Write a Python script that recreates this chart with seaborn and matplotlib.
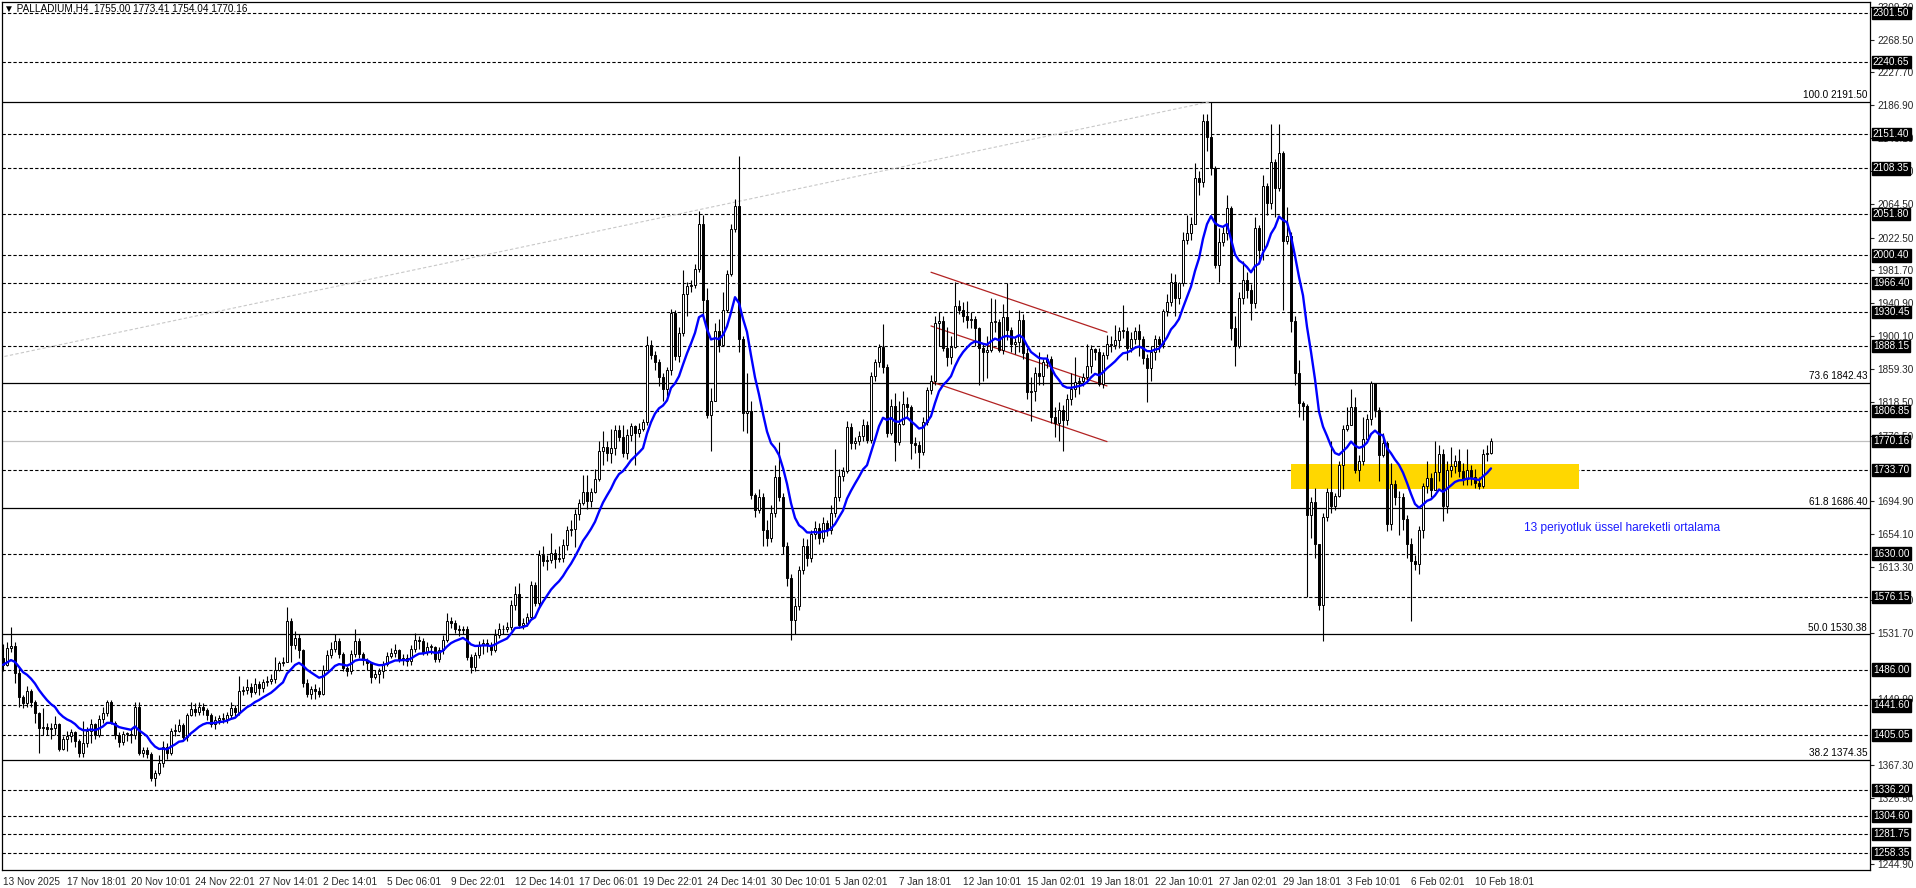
import numpy as np
import pandas as pd
import matplotlib
matplotlib.use("Agg")
import matplotlib.pyplot as plt
import matplotlib.transforms as mtransforms
import seaborn as sns

# H4 candles (bar 0 = 13 Nov 2025)
closes = [
    1492, 1513, 1515, 1482, 1452, 1444, 1460, 1446, 1432, 1413,
    1415, 1412, 1413, 1418, 1388, 1400, 1404, 1408, 1398, 1383,
    1395, 1410, 1418, 1405, 1425, 1432, 1446, 1420, 1405, 1396,
    1406, 1406, 1405, 1440, 1382, 1386, 1381, 1351, 1358, 1370,
    1390, 1382, 1410, 1410, 1417, 1402, 1430, 1437, 1434, 1440,
    1436, 1430, 1418, 1423, 1426, 1425, 1430, 1438, 1434, 1460,
    1461, 1464, 1458, 1468, 1463, 1471, 1472, 1475, 1486, 1494,
    1495, 1547, 1517, 1525, 1510, 1470, 1456, 1462, 1460, 1456,
    1486, 1504, 1512, 1521, 1506, 1488, 1484, 1506, 1521, 1506,
    1498, 1494, 1477, 1481, 1484, 1493, 1503, 1507, 1510, 1498,
    1500, 1497, 1512, 1523, 1522, 1508, 1514, 1514, 1499, 1510,
    1523, 1546, 1544, 1537, 1535, 1537, 1502, 1489, 1504, 1517,
    1519, 1516, 1510, 1529, 1537, 1536, 1539, 1566, 1580, 1541,
    1544, 1551, 1591, 1569, 1628, 1621, 1622, 1631, 1624, 1625,
    1641, 1659, 1661, 1679, 1693, 1707, 1695, 1707, 1723, 1757,
    1762, 1755, 1761, 1784, 1775, 1755, 1777, 1788, 1780, 1785,
    1793, 1889, 1877, 1868, 1850, 1835, 1858, 1929, 1875, 1904,
    1952, 1962, 1964, 1984, 2040, 1945, 1802, 1819, 1907, 1889,
    1933, 1977, 2033, 2062, 1897, 1805, 1807, 1703, 1684, 1700,
    1660, 1650, 1680, 1725, 1700, 1640, 1600, 1548, 1565, 1610,
    1640, 1625, 1655, 1662, 1650, 1668, 1660, 1680, 1700, 1727,
    1733, 1787, 1767, 1770, 1776, 1790, 1771, 1851, 1868, 1887,
    1862, 1780, 1813, 1769, 1791, 1816, 1812, 1767, 1765, 1756,
    1794, 1833, 1845, 1916, 1919, 1885, 1874, 1887, 1937, 1933,
    1925, 1920, 1921, 1910, 1885, 1880, 1883, 1918, 1918, 1883,
    1924, 1908, 1891, 1893, 1920, 1879, 1831, 1832, 1854, 1851,
    1868, 1872, 1800, 1792, 1808, 1796, 1822, 1835, 1843, 1845,
    1849, 1863, 1884, 1880, 1841, 1877, 1891, 1889, 1895, 1907,
    1907, 1885, 1897, 1907, 1896, 1873, 1860, 1880, 1896, 1891,
    1931, 1943, 1968, 1947, 1966, 2020, 2028, 2040, 2097, 2091,
    2167, 2148, 2109, 1989, 2017, 2028, 2059, 1910, 1888, 1948,
    1970, 1957, 1941, 2034, 2007, 2087, 2065, 2116, 2084, 2128,
    2018, 2025, 1919, 1854, 1817, 1813, 1678, 1694, 1642, 1566,
    1676, 1707, 1689, 1702, 1740, 1785, 1790, 1812, 1734, 1745,
    1773, 1797, 1842, 1809, 1752, 1767, 1667, 1716, 1700, 1701,
    1673, 1642, 1621, 1617, 1659, 1714, 1724, 1709, 1732, 1754,
    1689, 1734, 1739, 1745, 1733, 1723, 1734, 1725, 1718, 1714,
    1754, 1755, 1770.16,
]
highs = [
    1518, 1520, 1539, 1520, 1488, 1455, 1466, 1462, 1448, 1434,
    1438, 1420, 1420, 1428, 1420, 1404, 1410, 1412, 1410, 1400,
    1422, 1415, 1425, 1420, 1430, 1440, 1448, 1448, 1422, 1408,
    1410, 1409, 1412, 1446, 1446, 1390, 1390, 1384, 1362, 1380,
    1398, 1395, 1414, 1418, 1425, 1420, 1432, 1446, 1444, 1446,
    1444, 1438, 1432, 1428, 1430, 1432, 1434, 1446, 1442, 1478,
    1466, 1475, 1470, 1476, 1472, 1475, 1478, 1480, 1502, 1497,
    1502, 1564, 1550, 1534, 1530, 1512, 1474, 1466, 1468, 1464,
    1492, 1510, 1520, 1530, 1525, 1508, 1490, 1510, 1537, 1525,
    1508, 1500, 1496, 1486, 1488, 1497, 1508, 1513, 1518, 1512,
    1505, 1506, 1516, 1531, 1528, 1525, 1520, 1518, 1515, 1514,
    1529, 1556, 1552, 1548, 1542, 1540, 1540, 1505, 1508, 1522,
    1524, 1524, 1520, 1536, 1544, 1542, 1545, 1572, 1590, 1594,
    1550, 1556, 1596, 1595, 1635, 1640, 1628, 1656, 1636, 1640,
    1648, 1665, 1672, 1686, 1698, 1728, 1728, 1712, 1735, 1770,
    1782, 1770, 1785, 1790, 1790, 1790, 1785, 1792, 1790, 1792,
    1797, 1900, 1895, 1882, 1872, 1855, 1862, 1934, 1932, 1912,
    1982, 1967, 1970, 1990, 2056, 2050, 1960, 1836, 1916, 1922,
    1955, 1982, 2040, 2070, 2124, 1900, 1854, 1820, 1705, 1710,
    1705, 1672, 1690, 1740, 1769, 1705, 1645, 1605, 1575, 1615,
    1650, 1648, 1660, 1670, 1668, 1675, 1672, 1690, 1760, 1735,
    1738, 1795, 1792, 1775, 1782, 1797, 1795, 1856, 1872, 1890,
    1915, 1865, 1822, 1830, 1820, 1832, 1824, 1815, 1775, 1770,
    1800, 1837, 1852, 1925, 1930, 1925, 1911, 1900, 1968, 1945,
    1943, 1944, 1930, 1925, 1912, 1890, 1900, 1948, 1946, 1922,
    1940, 1966, 1912, 1898, 1932, 1928, 1885, 1850, 1862, 1880,
    1872, 1878, 1875, 1812, 1818, 1815, 1828, 1854, 1874, 1850,
    1854, 1890, 1889, 1885, 1885, 1880, 1902, 1900, 1914, 1912,
    1939, 1912, 1905, 1912, 1915, 1900, 1878, 1888, 1902, 1900,
    1934, 1952, 1978, 1977, 1968, 2030, 2050, 2048, 2115, 2105,
    2176, 2176, 2191.5, 2112, 2035, 2036, 2075, 2062, 1925, 1955,
    1994, 1980, 1965, 2048, 2038, 2100, 2090, 2164, 2120, 2164,
    2130, 2060, 2030, 1925, 1870, 1820, 1816, 1700, 1712, 1640,
    1680, 1712, 1770, 1705, 1745, 1790, 1812, 1835, 1825, 1752,
    1800, 1803, 1845, 1842, 1812, 1780, 1770, 1742, 1722, 1708,
    1705, 1678, 1650, 1628, 1665, 1718, 1745, 1730, 1770, 1765,
    1760, 1745, 1762, 1752, 1760, 1742, 1760, 1740, 1735, 1725,
    1760, 1765, 1773.41,
]
lows = [
    1484, 1490, 1508, 1470, 1440, 1438, 1440, 1440, 1420, 1382,
    1405, 1405, 1400, 1405, 1385, 1386, 1385, 1396, 1390, 1378,
    1378, 1390, 1395, 1400, 1402, 1420, 1428, 1418, 1400, 1390,
    1392, 1398, 1395, 1400, 1380, 1378, 1376, 1348, 1341, 1355,
    1365, 1375, 1380, 1404, 1408, 1398, 1398, 1428, 1428, 1430,
    1430, 1424, 1415, 1412, 1418, 1420, 1420, 1426, 1428, 1430,
    1454, 1456, 1452, 1456, 1455, 1458, 1466, 1468, 1470, 1484,
    1490, 1496, 1495, 1512, 1500, 1465, 1452, 1450, 1449, 1452,
    1455, 1485, 1500, 1508, 1500, 1484, 1478, 1480, 1502, 1500,
    1492, 1485, 1470, 1474, 1470, 1476, 1490, 1500, 1502, 1495,
    1492, 1490, 1492, 1508, 1512, 1504, 1504, 1506, 1495, 1496,
    1505, 1520, 1538, 1532, 1528, 1530, 1498, 1482, 1484, 1500,
    1505, 1508, 1504, 1508, 1525, 1530, 1533, 1535, 1560, 1538,
    1536, 1540, 1548, 1565, 1565, 1615, 1610, 1618, 1612, 1620,
    1620, 1635, 1652, 1638, 1672, 1690, 1685, 1688, 1705, 1720,
    1740, 1745, 1742, 1752, 1770, 1750, 1748, 1770, 1740, 1775,
    1782, 1790, 1872, 1858, 1838, 1820, 1826, 1852, 1870, 1868,
    1900, 1925, 1955, 1960, 1980, 1928, 1798, 1757, 1819, 1880,
    1889, 1930, 1975, 2030, 1880, 1782, 1780, 1698, 1675, 1680,
    1640, 1640, 1645, 1675, 1695, 1630, 1590, 1523, 1530, 1560,
    1605, 1615, 1620, 1648, 1642, 1645, 1652, 1655, 1675, 1695,
    1720, 1730, 1760, 1760, 1765, 1770, 1768, 1768, 1845, 1862,
    1855, 1775, 1778, 1745, 1765, 1790, 1800, 1748, 1755, 1736,
    1752, 1790, 1828, 1840, 1888, 1882, 1863, 1865, 1885, 1928,
    1918, 1910, 1910, 1888, 1839, 1845, 1848, 1880, 1905, 1880,
    1878, 1895, 1880, 1878, 1880, 1872, 1822, 1795, 1820, 1840,
    1840, 1860, 1792, 1775, 1770, 1757, 1790, 1815, 1825, 1828,
    1838, 1845, 1855, 1870, 1838, 1836, 1872, 1880, 1884, 1885,
    1898, 1870, 1880, 1890, 1875, 1865, 1818, 1845, 1870, 1880,
    1885, 1925, 1937, 1925, 1940, 1962, 2015, 2020, 2040, 2075,
    2085, 2130, 2100, 1985, 1968, 2012, 2020, 1895, 1863, 1885,
    1940, 1948, 1920, 1935, 1995, 1995, 2050, 2058, 2048, 2080,
    1932, 2015, 1905, 1840, 1800, 1796, 1576, 1650, 1625, 1560,
    1522, 1670, 1680, 1684, 1700, 1710, 1782, 1790, 1730, 1720,
    1740, 1772, 1790, 1800, 1720, 1750, 1658, 1660, 1690, 1653,
    1660, 1625, 1547, 1610, 1605, 1650, 1705, 1700, 1715, 1720,
    1670, 1680, 1725, 1730, 1725, 1715, 1715, 1715, 1712, 1710,
    1712, 1745, 1754.04,
]
first_open = 1500.0

x_labels = ["13 Nov 2025", "17 Nov 18:01", "20 Nov 10:01", "24 Nov 22:01",
            "27 Nov 14:01", "2 Dec 14:01", "5 Dec 06:01", "9 Dec 22:01",
            "12 Dec 14:01", "17 Dec 06:01", "19 Dec 22:01", "24 Dec 14:01",
            "30 Dec 10:01", "5 Jan 02:01", "7 Jan 18:01", "12 Jan 10:01",
            "15 Jan 02:01", "19 Jan 18:01", "22 Jan 10:01", "27 Jan 02:01",
            "29 Jan 18:01", "3 Feb 10:01", "6 Feb 02:01", "10 Feb 18:01"]
bars_per_label = 16
# price scale labels (the ones fully hidden under level boxes are left out)
y_ticks = [2309.30, 2268.50, 2227.70, 2186.90, 2146.10, 2105.30, 2064.50,
           2022.50, 1981.70, 1940.90, 1900.10, 1859.30, 1818.50, 1776.50,
           1694.90, 1654.10, 1613.30, 1572.50, 1531.70,
           1449.90, 1367.30, 1326.50, 1244.90]

levels = [2301.50, 2240.65, 2151.40, 2108.35, 2051.80, 2000.40, 1966.40,
          1930.45, 1888.15, 1806.85, 1733.70, 1630.00, 1576.15, 1486.00,
          1441.60, 1405.05, 1336.20, 1304.60, 1281.75, 1258.35]
fib_pcts = ["100.0", "73.6", "61.8", "50.0", "38.2"]
fib_levels = [2191.50, 1842.43, 1686.40, 1530.38, 1374.35]
last_price = 1770.16

fib_trend_x = [-1, 302]
fib_trend_y = [1873.5, 2191.5]
channel_x = [232, 276]
channel_top = [1979.5, 1905.0]
channel_mid = [1912.8, 1838.3]
channel_low = [1843.6, 1769.2]
zone_x = [322.1, 393.9]
zone_y = [1710.3, 1741.4]
ema_note = "13 periyotluk üssel hareketli ortalama"
header = "\u25bc PALLADIUM,H4  1755.00 1773.41 1754.04 1770.16"

df = pd.DataFrame({"bar": np.arange(len(closes)), "close": closes,
                   "high": highs, "low": lows})
df["open"] = df["close"].shift(1).fillna(first_open)
df["high"] = df[["high", "open", "close"]].max(axis=1)
df["low"] = df[["low", "open", "close"]].min(axis=1)
df["ema"] = df["close"].ewm(span=13, adjust=False).mean()

sns.set_style("white")
plt.rcParams["font.family"] = ["Liberation Sans", "DejaVu Sans"]

fig = plt.figure(figsize=(19.16, 8.88), dpi=100)
ax = fig.add_axes([2 / 1916, 18 / 888, 1868 / 1916, 868 / 888])
ax.set_xlim(-0.25, 466.75)
ax.set_ylim(1237.2, 2315.1)

# levels and fibo
for lv in levels:
    ax.axhline(lv, color="black", lw=0.8, ls=(0, (3, 1.9)), zorder=1)
for pct, lv in zip(fib_pcts, fib_levels):
    ax.axhline(lv, color="black", lw=0.9, zorder=1)
    ax.text(0.9985, lv + 1.5, f"{pct} {lv:.2f}", transform=ax.get_yaxis_transform(),
            ha="right", va="bottom", fontsize=7.2, color="black")
ax.axhline(last_price, color="#c0c0c0", lw=0.9, zorder=1)
ax.plot(fib_trend_x, fib_trend_y, color="#c8c8c8", lw=0.8, ls=(0, (3, 2)), zorder=1)

ax.fill_between(zone_x, zone_y[0], zone_y[1], color="#ffd700", lw=0, zorder=1.5)

for ys in (channel_top, channel_mid, channel_low):
    ax.plot(channel_x, ys, color="#b22222", lw=0.9, zorder=2)

# candles
up = df["close"] >= df["open"]
ax.vlines(df["bar"], df["low"], df["high"], color="black", lw=0.8, zorder=3)
ax.bar(df["bar"], (df["close"] - df["open"]).abs().clip(lower=0.8),
       bottom=np.minimum(df["open"], df["close"]), width=0.7,
       color=np.where(up, "white", "black"), edgecolor="black",
       linewidth=0.7, zorder=4)

sns.lineplot(data=df, x="bar", y="ema", color="#0000ff", lw=1.7, ax=ax, zorder=5)
ax.set_xlabel("")
ax.set_ylabel("")

ax.text(380.2, 1662, ema_note, color="#1a1aff", fontsize=8.6, ha="left", va="center")
ax.text(0.001, 0.992, header, transform=ax.transAxes, fontsize=7.2,
        ha="left", va="center", color="black")

# axes
ax.yaxis.tick_right()
ax.set_yticks(y_ticks)
ax.set_yticklabels([f"{v:.2f}" for v in y_ticks])
ax.set_xticks(np.arange(len(x_labels)) * bars_per_label)
ax.set_xticklabels(x_labels, ha="left")
ax.tick_params(axis="y", direction="out", length=3, width=0.8, labelsize=7.2, pad=2)
ax.tick_params(axis="x", direction="out", length=3, width=0.8, labelsize=7.2, pad=2)
for sp in ax.spines.values():
    sp.set_color("black")
    sp.set_linewidth(0.9)
ax.grid(False)

trans = mtransforms.blended_transform_factory(ax.transAxes, ax.transData)
for lv in levels + [last_price]:
    ax.text(1.0015, lv, f"{lv:.2f}", transform=trans, ha="left", va="center",
            color="white", fontsize=7.2, clip_on=False, zorder=10,
            bbox=dict(boxstyle="square,pad=0.12", fc="black", ec="black"))

fig.savefig("out.png", dpi=100)
